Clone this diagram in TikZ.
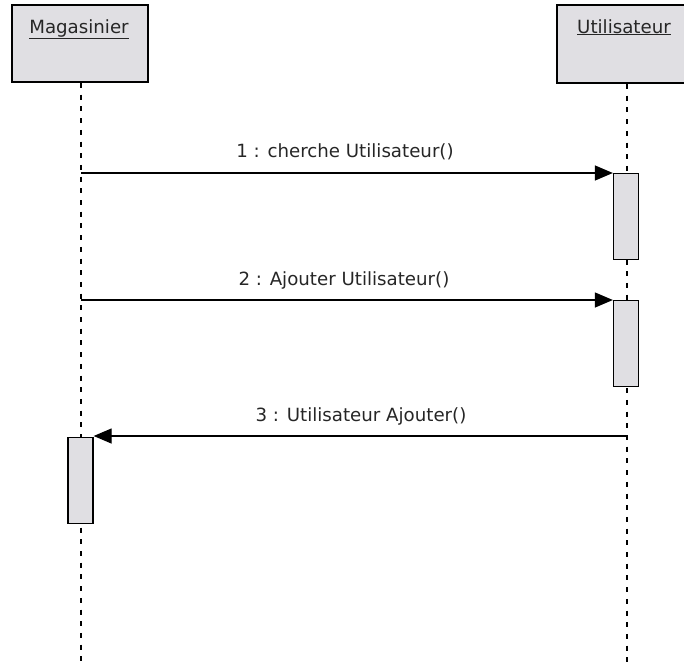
\documentclass[tikz,border=0pt]{standalone}
\usepackage{fontspec}
\setmainfont{DejaVu Sans}
\usetikzlibrary{arrows.meta}
\definecolor{boxgrey}{HTML}{E0DFE3}
\begin{document}
\begin{tikzpicture}[x=1pt,y=-1pt,
  actor/.style={draw=black,line width=1.6pt,fill=boxgrey},
  activation/.style={draw=black,line width=1.3pt,fill=boxgrey},
  lifeline/.style={line width=1.5pt,dash pattern=on 5pt off 6.7pt},
  msg/.style={line width=1.3pt,-{Triangle[length=18pt,width=15pt]}},
  lbl/.style={font=\fontsize{18.2}{19}\selectfont,text=black!85,inner sep=0pt,anchor=base}]
\useasboundingbox (0,0) rectangle (684,667);
% participants
\draw[actor] (12,5) rectangle (148,82);
\draw[actor] (557,5) rectangle (690,83);
\node[lbl] (mag) at (79,33) {\underline{Magasinier}};
\node[lbl] (uti) at (624,33) {\underline{Utilisateur}};
% lifelines
\coordinate (magtop) at (81,83);
\coordinate (magbot) at (81,667);
\coordinate (utitop) at (627,84);
\coordinate (utibot) at (627,667);
\draw[lifeline] (magtop) -- (magbot);
\draw[lifeline] (utitop) -- (utibot);
% activation bars
\node[activation,minimum width=25pt,minimum height=86pt,inner sep=0pt,anchor=north] (a1) at (626,173) {};
\node[activation,minimum width=25pt,minimum height=86pt,inner sep=0pt,anchor=north] (a2) at (626,300) {};
\node[activation,minimum width=25pt,minimum height=86pt,inner sep=0pt,anchor=north] (a3) at (80.5,437) {};
% messages
\coordinate (m1) at (81,173);
\coordinate (m2) at (81,300);
\coordinate (m3) at (627,436);
\draw[msg] (m1) -- (a1.north west);
\draw[msg] (m2) -- (a2.north west);
\draw[msg] (m3) -- (m3 -| a3.east);
\node[lbl] (l1) at (345,157) {1 : cherche Utilisateur()};
\node[lbl] (l2) at (344,285) {2 : Ajouter Utilisateur()};
\node[lbl] (l3) at (361,421) {3 : Utilisateur Ajouter()};
\end{tikzpicture}
\end{document}
